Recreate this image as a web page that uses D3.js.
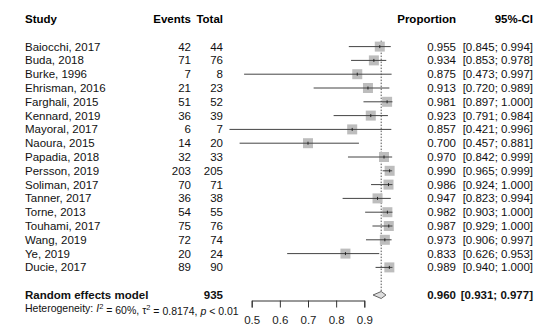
<!DOCTYPE html>
<html>
<head>
<meta charset="utf-8">
<script src="https://cdn.jsdelivr.net/npm/d3@7"></script>
<style>
  body { margin: 0; background: #fff; }
  svg { font-family: Arial, "Liberation Sans", sans-serif; }
</style>
</head>
<body>
<svg id="chart" width="550" height="335"></svg>
<script>
const studies = ["Baiocchi, 2017", "Buda, 2018", "Burke, 1996", "Ehrisman, 2016", "Farghali, 2015",
  "Kennard, 2019", "Mayoral, 2017", "Naoura, 2015", "Papadia, 2018", "Persson, 2019", "Soliman, 2017",
  "Tanner, 2017", "Torne, 2013", "Touhami, 2017", "Wang, 2019", "Ye, 2019", "Ducie, 2017"]
const events = [42, 71, 7, 21, 51, 36, 6, 14, 32, 203, 70, 36, 54, 75, 72, 20, 89]
const totals = [44, 76, 8, 23, 52, 39, 7, 20, 33, 205, 71, 38, 55, 76, 74, 24, 90]
const props = [0.955, 0.934, 0.875, 0.913, 0.981, 0.923, 0.857, 0.700, 0.970, 0.990, 0.986, 0.947, 0.982, 0.987, 0.973, 0.833, 0.989]
const lower = [0.845, 0.853, 0.473, 0.720, 0.897, 0.791, 0.421, 0.457, 0.842, 0.965, 0.924, 0.823, 0.903, 0.929, 0.906, 0.626, 0.940]
const upper = [0.994, 0.978, 0.997, 0.989, 1.000, 0.984, 0.996, 0.881, 0.999, 0.999, 1.000, 0.994, 1.000, 1.000, 0.997, 0.953, 1.000]
const pooled = {est: 0.960, lo: 0.931, hi: 0.977, total: 935}
const axisTicks = [0.5, 0.6, 0.7, 0.8, 0.9]

const svg = d3.select("#chart")
const fmt = d3.format(".3f")

const x = d3.scaleLinear().domain([0.5, 0.9]).range([251.7, 364.3])
const rowH = 13.8
const rowY = i => 19 + i * rowH   // row 0 = header, studies start at row 2

const cols = {study: 25, events: 191, total: 223, prop: 456, ci: 533}

// header
const header = svg.append("g").attr("font-size", "11.5px").attr("font-weight", "bold")
header.append("text").attr("x", cols.study).attr("y", rowY(0)).attr("dy", "0.35em").text("Study")
header.append("text").attr("x", cols.events).attr("y", rowY(0)).attr("dy", "0.35em").attr("text-anchor", "end").text("Events")
header.append("text").attr("x", cols.total).attr("y", rowY(0)).attr("dy", "0.35em").attr("text-anchor", "end").text("Total")
header.append("text").attr("x", cols.prop).attr("y", rowY(0)).attr("dy", "0.35em").attr("text-anchor", "end").text("Proportion")
header.append("text").attr("x", cols.ci).attr("y", rowY(0)).attr("dy", "0.35em").attr("text-anchor", "end").text("95%-CI")

const data = studies.map((s, i) => ({study: s, ev: events[i], n: totals[i], p: props[i], lo: lower[i], hi: upper[i], y: rowY(i + 2)}))

// reference line at pooled estimate
svg.append("line")
  .attr("x1", x(pooled.est)).attr("x2", x(pooled.est))
  .attr("y1", rowY(2) - 6).attr("y2", rowY(data.length + 3) - 3)
  .attr("stroke", "#555").attr("stroke-width", 1).attr("stroke-dasharray", "1.5,1.5")

const rows = svg.append("g").selectAll("g")
  .data(data)
  .enter().append("g")
  .attr("font-size", "11.5px")
  .attr("fill", "#111")

rows.append("text").attr("x", cols.study).attr("y", d => d.y).attr("dy", "0.35em").text(d => d.study)
rows.append("text").attr("x", cols.events).attr("y", d => d.y).attr("dy", "0.35em").attr("text-anchor", "end").text(d => d.ev)
rows.append("text").attr("x", cols.total).attr("y", d => d.y).attr("dy", "0.35em").attr("text-anchor", "end").text(d => d.n)
rows.append("text").attr("x", cols.prop).attr("y", d => d.y).attr("dy", "0.35em").attr("text-anchor", "end").text(d => fmt(d.p))
rows.append("text").attr("x", cols.ci).attr("y", d => d.y).attr("dy", "0.35em").attr("text-anchor", "end")
  .text(d => "[" + fmt(d.lo) + "; " + fmt(d.hi) + "]")

const box = 10
rows.append("rect")
  .attr("x", d => x(d.p) - box / 2).attr("y", d => d.y - box / 2)
  .attr("width", box).attr("height", box)
  .attr("fill", "#bdbdbd")
rows.append("line")
  .attr("x1", d => x(d.lo)).attr("x2", d => x(d.hi))
  .attr("y1", d => d.y).attr("y2", d => d.y)
  .attr("stroke", "#444").attr("stroke-width", 1)
rows.append("line")
  .attr("x1", d => x(d.p)).attr("x2", d => x(d.p))
  .attr("y1", d => d.y - 1.5).attr("y2", d => d.y + 1.5)
  .attr("stroke", "#222").attr("stroke-width", 1)

// pooled row
const py = rowY(data.length + 3)
const pooledG = svg.append("g").attr("font-size", "11.5px").attr("font-weight", "bold").attr("fill", "#111")
pooledG.append("text").attr("x", cols.study).attr("y", py).attr("dy", "0.35em").text("Random effects model")
pooledG.append("text").attr("x", cols.total).attr("y", py).attr("dy", "0.35em").attr("text-anchor", "end").text(pooled.total)
pooledG.append("text").attr("x", cols.prop).attr("y", py).attr("dy", "0.35em").attr("text-anchor", "end").text(fmt(pooled.est))
pooledG.append("text").attr("x", cols.ci).attr("y", py).attr("dy", "0.35em").attr("text-anchor", "end")
  .text("[" + fmt(pooled.lo) + "; " + fmt(pooled.hi) + "]")

svg.append("path")
  .attr("d", "M" + x(pooled.lo) + "," + py + "L" + x(pooled.est) + "," + (py - 3.5) +
    "L" + x(pooled.hi) + "," + py + "L" + x(pooled.est) + "," + (py + 3.5) + "Z")
  .attr("fill", "#ddd").attr("stroke", "#666").attr("stroke-width", 1)

// heterogeneity
const het = svg.append("text").attr("x", cols.study).attr("y", rowY(data.length + 4)).attr("dy", "0.35em")
  .attr("font-size", "10.5px").attr("fill", "#111")
het.append("tspan").text("Heterogeneity: ")
het.append("tspan").attr("font-style", "italic").text("I")
het.append("tspan").attr("dy", "-0.45em").attr("font-size", "7.5px").text("2")
het.append("tspan").attr("dy", "0.45em").text(" = 60%, \u03c4")
het.append("tspan").attr("dy", "-0.45em").attr("font-size", "7.5px").text("2")
het.append("tspan").attr("dy", "0.45em").text(" = 0.8174, ")
het.append("tspan").attr("font-style", "italic").text("p")
het.append("tspan").text(" < 0.01")

// axis
const axis = d3.axisBottom(x).tickValues(axisTicks).tickFormat(d3.format(".1f")).tickSizeOuter(0).tickSize(7).tickPadding(8)
const ax = svg.append("g").attr("transform", "translate(0,300.5)").call(axis)
ax.select(".domain").attr("stroke", "#333")
ax.selectAll(".tick line").attr("stroke", "#333")
ax.selectAll(".tick text").attr("font-size", "11.5px").attr("fill", "#222").attr("font-family", "Arial, 'Liberation Sans', sans-serif")
</script>
</body>
</html>
